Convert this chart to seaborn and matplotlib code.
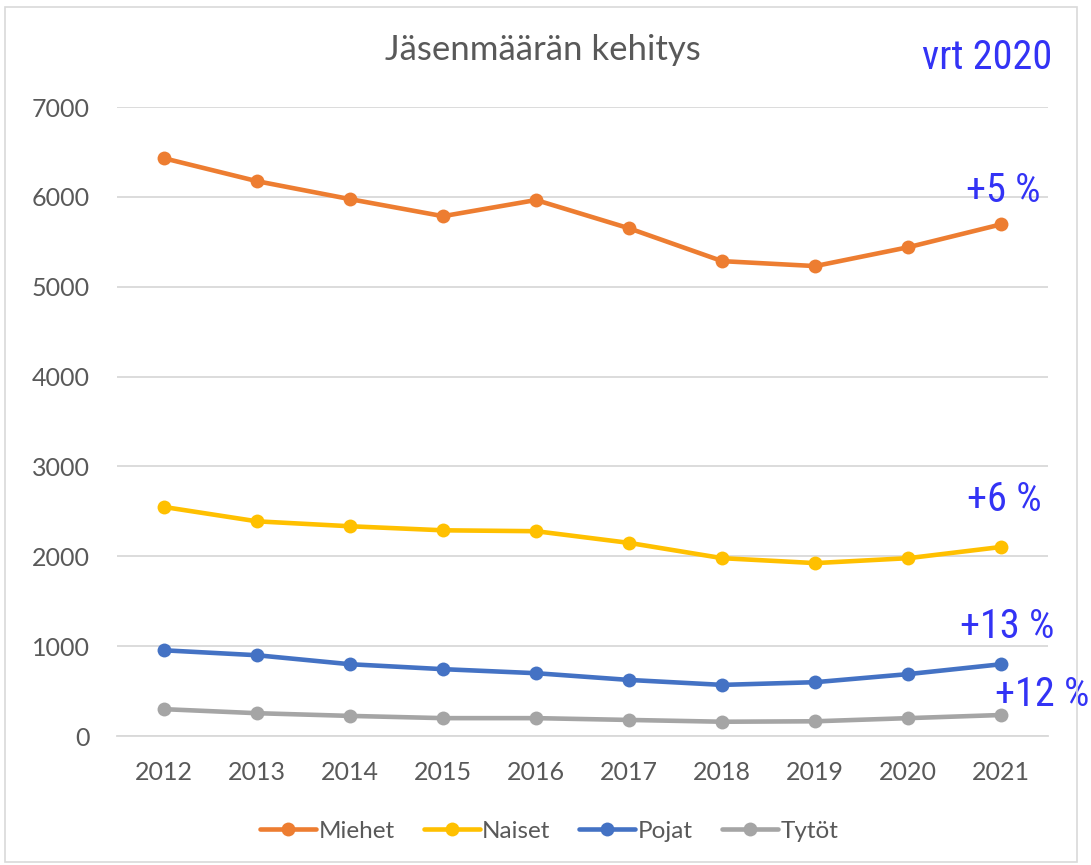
import numpy as np
import pandas as pd
import seaborn as sns
import matplotlib.pyplot as plt
from matplotlib import font_manager as fm
from matplotlib.patches import Rectangle

years = [2012, 2013, 2014, 2015, 2016, 2017, 2018, 2019, 2020, 2021]
miehet = [6430, 6175, 5975, 5785, 5965, 5650, 5285, 5230, 5440, 5695]
naiset = [2550, 2390, 2335, 2290, 2280, 2150, 1980, 1925, 1980, 2105]
pojat = [955, 900, 800, 745, 700, 625, 570, 600, 690, 800]
tytot = [300, 255, 225, 200, 200, 180, 160, 165, 200, 235]
series_names = ['Miehet', 'Naiset', 'Pojat', 'Tytöt']
colors = ['#ED7D31', '#FFC000', '#4472C4', '#A5A5A5']
changes = ['+5 %', '+6 %', '+13 %', '+12 %']

df = pd.DataFrame({
    'Vuosi': years * 4,
    'Jäsenet': miehet + naiset + pojat + tytot,
    'Ryhmä': [n for n in series_names for _ in years],
})


def narrow_font():
    # look for an installed condensed sans face for the blue notes
    order = ['Roboto Condensed', 'Noto Sans', 'Open Sans', 'DejaVu Sans',
             'Liberation Sans Narrow', 'Noto Sans Display']
    found = []
    for f in fm.fontManager.ttflist:
        if f.style != 'normal' or f.weight not in (400, 'normal', 'regular'):
            continue
        if 'condensed' not in str(f.stretch) and 'Condensed' not in f.name \
                and 'Narrow' not in f.name:
            continue
        rank = order.index(f.name) if f.name in order else len(order)
        found.append((rank, str(f.stretch) != 'condensed', f.fname))
    if not found:
        return None
    found.sort()
    return found[0][2]


sns.set_style('white')
plt.rcParams['font.family'] = ['Lato', 'DejaVu Sans']
text_gray = '#595959'
blue = '#3333F5'

nf = narrow_font()
if nf:
    cond = dict(fontproperties=fm.FontProperties(fname=nf), color=blue)
else:
    cond = dict(family='DejaVu Sans', stretch='condensed', color=blue)

fig = plt.figure(figsize=(10.91, 8.65), dpi=100)
ax = fig.add_axes([0.1075, 0.149, 0.853, 0.7273])

sns.lineplot(data=df, x='Vuosi', y='Jäsenet', hue='Ryhmä', palette=colors,
             marker='o', markersize=10, markeredgewidth=0, linewidth=3.3,
             ax=ax, legend=True)

ax.set_xlim(2011.5, 2021.5)
ax.set_ylim(0, 7000)
ax.set_xticks(years)
ax.set_yticks(range(0, 7001, 1000))
ax.grid(axis='y', color='#D9D9D9', linewidth=1.3)
ax.set_axisbelow(True)
for s in ['top', 'right', 'left']:
    ax.spines[s].set_visible(False)
ax.spines['bottom'].set_color('#D9D9D9')
ax.spines['bottom'].set_linewidth(1.3)
ax.tick_params(axis='both', length=0, labelsize=18, labelcolor=text_gray)
ax.tick_params(axis='x', pad=18)
ax.tick_params(axis='y', pad=20)
ax.set_xlabel('')
ax.set_ylabel('')

handles, labels = ax.get_legend_handles_labels()
ax.legend(handles, labels, loc='upper center', bbox_to_anchor=(0.464, -0.1),
          ncol=4, frameon=False, fontsize=17.5, labelcolor=text_gray,
          handlelength=2.3, handletextpad=0.1, columnspacing=1.2)

fig.text(0.498, 0.942, 'Jäsenmäärän kehitys', ha='center', va='center',
         fontsize=25, color=text_gray)
t = fig.text(0.905, 0.9335, 'vrt 2020', ha='center', va='center', **cond)
t.set_fontsize(29)

last = [miehet[-1], naiset[-1], pojat[-1], tytot[-1]]
offs = [(0.02, 380), (0.03, 532), (0.065, 424), (0.44, 232)]
for txt, v, (dx, dy) in zip(changes, last, offs):
    t = ax.text(2021 + dx, v + dy, txt, ha='center', va='center',
                clip_on=False, **cond)
    t.set_fontsize(29)

fig.patches.append(Rectangle((5 / 1091, 3 / 865), 1072 / 1091, 855 / 865,
                             transform=fig.transFigure, fill=False,
                             edgecolor='#D9D9D9', linewidth=1.2))

fig.savefig('out.png', dpi=100)
